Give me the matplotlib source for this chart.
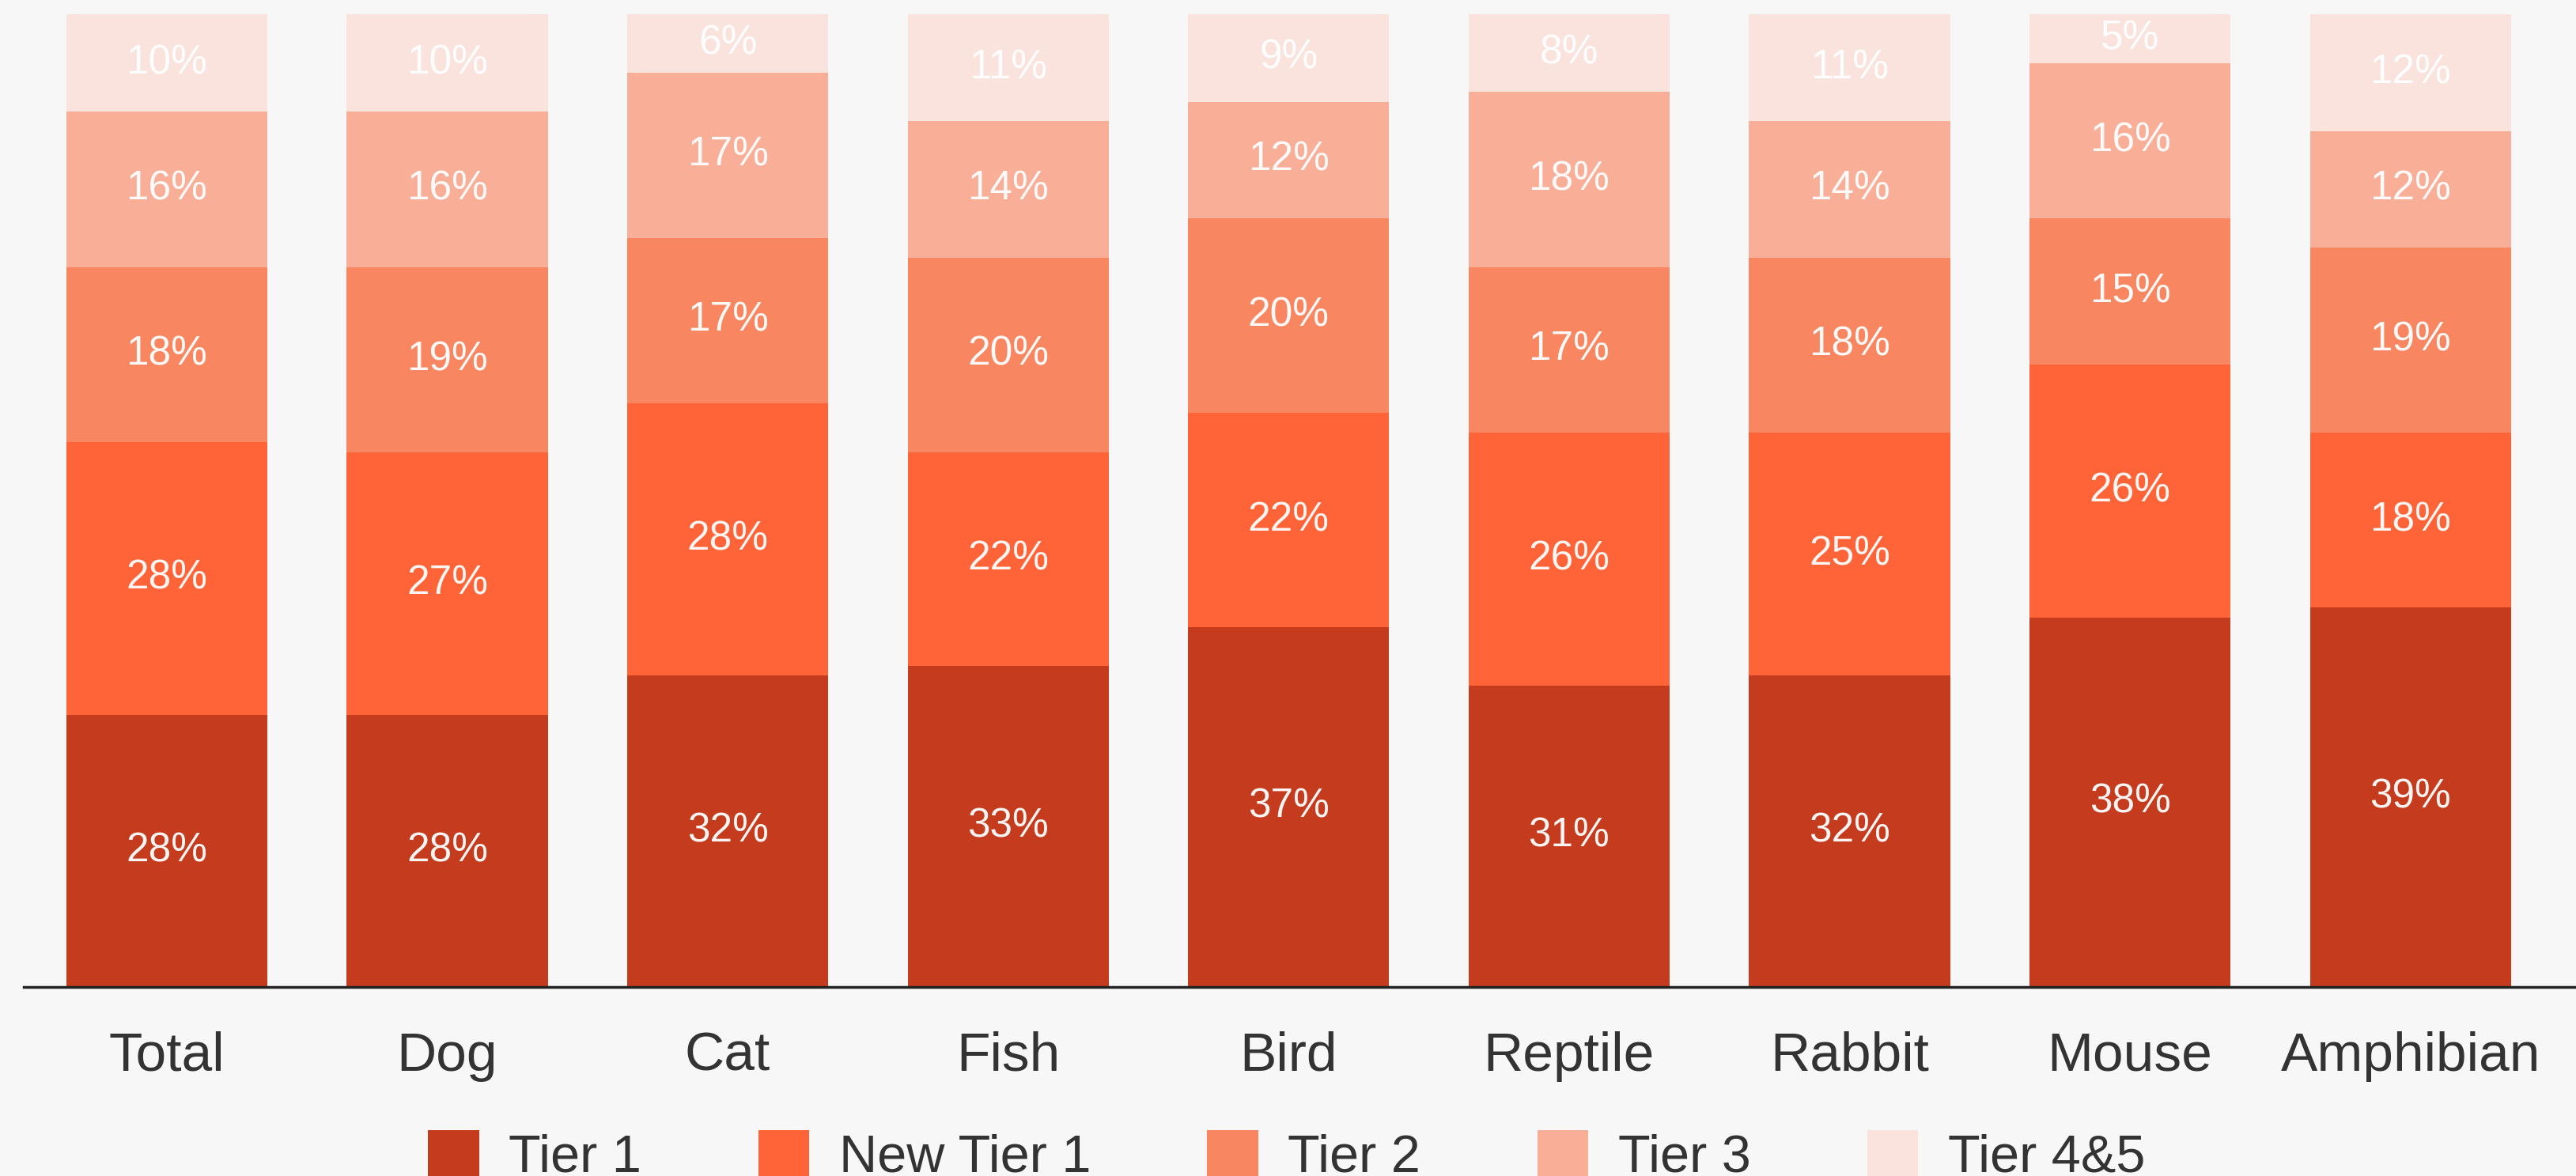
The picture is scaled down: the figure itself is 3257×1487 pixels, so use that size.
import matplotlib
matplotlib.use("Agg")
import matplotlib.pyplot as plt
import numpy as np

categories = ["Total", "Dog", "Cat", "Fish", "Bird", "Reptile", "Rabbit", "Mouse", "Amphibian"]
series_names = ["Tier 1", "New Tier 1", "Tier 2", "Tier 3", "Tier 4&5"]
tier1 = [28, 28, 32, 33, 37, 31, 32, 38, 39]
new_tier1 = [28, 27, 28, 22, 22, 26, 25, 26, 18]
tier2 = [18, 19, 17, 20, 20, 17, 18, 15, 19]
tier3 = [16, 16, 17, 14, 12, 18, 14, 16, 12]
tier45 = [10, 10, 6, 11, 9, 8, 11, 5, 12]
colors = ["#c43b1d", "#ff6439", "#f88661", "#f9ae97", "#fae3dd"]

plt.rcParams['font.family'] = ['Liberation Sans', 'DejaVu Sans']

W, H = 3257, 1487
fig = plt.figure(figsize=(W / 100, H / 100), dpi=100)
bg = "#f7f7f7"
fig.patch.set_facecolor(bg)
ax = fig.add_axes([30 / W, (H - 1248) / H, 1 - 30 / W, (1248 - 18) / H])
ax.set_facecolor(bg)

x = np.arange(len(categories))
bottom = np.zeros(len(categories))
for name, vals, c in zip(series_names, [tier1, new_tier1, tier2, tier3, tier45], colors):
    vals = np.array(vals, dtype=float)
    ax.bar(x, vals, bottom=bottom, width=0.717, color=c, label=name, linewidth=0)
    for xi, v, b in zip(x, vals, bottom):
        ax.text(xi, b + v / 2, f"{int(v)}%", ha="center", va="center",
                color="white", fontsize=37, alpha=0.95)
    bottom += vals

ax.set_xlim(-0.51, 8.59)
ax.set_ylim(0, 100)
ax.set_yticks([])
ax.set_xticks(x)
ax.set_xticklabels(categories, fontsize=50, color="#333333")
ax.tick_params(axis="x", length=0, pad=40)
for s in ["top", "right", "left"]:
    ax.spines[s].set_visible(False)
ax.spines["bottom"].set_color("#222222")
ax.spines["bottom"].set_linewidth(2.5)

fig.legend(loc="center", bbox_to_anchor=(0.4995, 25 / H), ncol=5, frameon=False,
           fontsize=48, handlelength=0.97, handleheight=0.97, handletextpad=0.56,
           columnspacing=2.21, labelcolor="#333333")

fig.savefig("out.png", dpi=100, facecolor=bg)
